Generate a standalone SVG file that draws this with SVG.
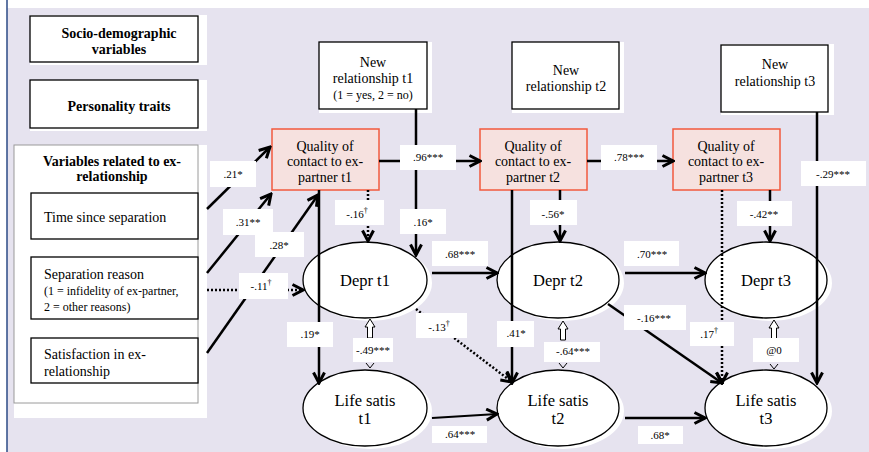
<svg xmlns="http://www.w3.org/2000/svg" width="869" height="452" viewBox="0 0 869 452">
<style>
text{fill:#000;font-family:'Liberation Serif','Times New Roman',serif}
.b{font-weight:bold;font-size:14px}
.n{font-size:14px}
.s{font-size:12px}
.e{font-size:16.5px}
.lb{font-size:11px}
.box{fill:#fff;stroke:#000;stroke-width:1.3}
.wb{fill:#fff}
.q{fill:#f6e1df;stroke:#f25a3e;stroke-width:1.5}
.el{fill:#fff;stroke:#000;stroke-width:1.3}
.c{fill:none;stroke:#000;stroke-width:2.5;marker-end:url(#ah)}
.d{fill:none;stroke:#000;stroke-width:2.5;stroke-dasharray:2 2;marker-end:url(#ah)}
.lbl{fill:#fff}
.dag{font-size:8px}
</style>
<defs>
<marker id="ah" viewBox="0 0 14 14" refX="12" refY="7" markerWidth="14" markerHeight="14" markerUnits="userSpaceOnUse" orient="auto">
<path d="M1.5,1.5 L12,7 L1.5,12.5" fill="none" stroke="#000" stroke-width="3"/>
</marker>
</defs>
<rect x="0" y="0" width="869" height="452" fill="#fff"/>
<rect x="7" y="8" width="862" height="444" fill="#e6e3ef"/>
<line x1="7" y1="0" x2="7" y2="452" stroke="#2b4a86" stroke-width="1.5"/>
<g font-family="Liberation Serif">
<g id="socio">
<rect class="wb" x="30" y="15" width="177" height="50"/>
<rect class="box" x="30" y="16" width="168" height="46"/>
<text class="b" x="119" y="38" text-anchor="middle">Socio-demographic</text>
<text class="b" x="119" y="54" text-anchor="middle">variables</text>
</g>
<g id="personality">
<rect class="wb" x="30" y="80" width="177" height="51"/>
<rect class="box" x="30" y="80" width="168" height="48"/>
<text class="b" x="119" y="111" text-anchor="middle">Personality traits</text>
</g>
<g id="exrel">
<rect class="wb" x="14" y="145" width="193" height="273"/>
<rect x="14" y="145" width="184" height="258" fill="none" stroke="#9a9a9a" stroke-width="1"/>
<text class="b" x="112" y="166" text-anchor="middle">Variables related to ex-</text>
<text class="b" x="112" y="181" text-anchor="middle">relationship</text>
</g>
<g id="time">
<rect class="box" x="31" y="193" width="167" height="46"/>
<text class="n" x="44" y="222">Time since separation</text>
</g>
<g id="reason">
<rect class="box" x="31" y="257" width="167" height="62"/>
<text class="n" x="44" y="279">Separation reason</text>
<text class="s" x="44" y="295">(1 = infidelity of ex-partner,</text>
<text class="s" x="44" y="311">2 = other reasons)</text>
</g>
<g id="satisfaction">
<rect class="box" x="31" y="338" width="167" height="45"/>
<text class="n" x="44" y="359">Satisfaction in ex-</text>
<text class="n" x="44" y="376">relationship</text>
</g>

<g id="newrel1">
<rect class="wb" x="319" y="42" width="113" height="71"/>
<rect class="box" x="319" y="42" width="108" height="67"/>
<text class="n" x="373" y="67" text-anchor="middle">New</text>
<text class="n" x="373" y="83" text-anchor="middle">relationship t1</text>
<text class="s" x="373" y="99" text-anchor="middle">(1 = yes, 2 = no)</text>
</g>
<g id="newrel2">
<rect class="wb" x="512" y="42" width="112" height="71"/>
<rect class="box" x="512" y="42" width="107" height="67"/>
<text class="n" x="566" y="75" text-anchor="middle">New</text>
<text class="n" x="566" y="91" text-anchor="middle">relationship t2</text>
</g>
<g id="newrel3">
<rect class="wb" x="721" y="44" width="113" height="71"/>
<rect class="box" x="721" y="45" width="107" height="67"/>
<text class="n" x="775" y="69" text-anchor="middle">New</text>
<text class="n" x="775" y="86" text-anchor="middle">relationship t3</text>
</g>

<g id="quality1">
<rect class="q" x="272" y="129" width="107" height="61"/>
<text class="n" x="325" y="151" text-anchor="middle">Quality of</text>
<text class="n" x="325" y="166" text-anchor="middle">contact to ex-</text>
<text class="n" x="325" y="182" text-anchor="middle">partner t1</text>
</g>
<g id="quality2">
<rect class="q" x="480" y="129" width="107" height="61"/>
<text class="n" x="533" y="151" text-anchor="middle">Quality of</text>
<text class="n" x="533" y="166" text-anchor="middle">contact to ex-</text>
<text class="n" x="533" y="182" text-anchor="middle">partner t2</text>
</g>
<g id="quality3">
<rect class="q" x="673" y="129" width="107" height="61"/>
<text class="n" x="726" y="151" text-anchor="middle">Quality of</text>
<text class="n" x="726" y="166" text-anchor="middle">contact to ex-</text>
<text class="n" x="726" y="182" text-anchor="middle">partner t3</text>
</g>

<g id="depr1">
<ellipse cx="370" cy="283" rx="62" ry="38" fill="#fff"/>
<ellipse class="el" cx="365" cy="280" rx="62" ry="38"/>
<text class="e" x="365" y="286" text-anchor="middle">Depr t1</text>
</g>
<g id="depr2">
<ellipse cx="563" cy="283" rx="61" ry="38" fill="#fff"/>
<ellipse class="el" cx="558" cy="280" rx="61" ry="38"/>
<text class="e" x="558" y="286" text-anchor="middle">Depr t2</text>
</g>
<g id="depr3">
<ellipse cx="771" cy="283" rx="61" ry="38" fill="#fff"/>
<ellipse class="el" cx="766" cy="280" rx="61" ry="38"/>
<text class="e" x="766" y="286" text-anchor="middle">Depr t3</text>
</g>
<g id="life1">
<ellipse cx="370" cy="411" rx="62" ry="38" fill="#fff"/>
<ellipse class="el" cx="365" cy="408" rx="62" ry="38"/>
<text class="e" x="365" y="406" text-anchor="middle">Life satis</text>
<text class="e" x="365" y="424" text-anchor="middle">t1</text>
</g>
<g id="life2">
<ellipse cx="563" cy="411" rx="61" ry="38" fill="#fff"/>
<ellipse class="el" cx="558" cy="408" rx="61" ry="38"/>
<text class="e" x="558" y="406" text-anchor="middle">Life satis</text>
<text class="e" x="558" y="424" text-anchor="middle">t2</text>
</g>
<g id="life3">
<ellipse cx="771" cy="411" rx="61" ry="38" fill="#fff"/>
<ellipse class="el" cx="766" cy="408" rx="61" ry="38"/>
<text class="e" x="766" y="406" text-anchor="middle">Life satis</text>
<text class="e" x="766" y="424" text-anchor="middle">t3</text>
</g>

<g id="connectors">
<line class="c" x1="207" y1="209" x2="270" y2="147"/>
<line class="c" x1="207" y1="273" x2="271" y2="194"/>
<line class="c" x1="207" y1="353" x2="318" y2="195"/>
<line class="d" x1="207" y1="290" x2="303" y2="290"/>
<line class="c" x1="379" y1="161" x2="480" y2="161"/>
<line class="c" x1="587" y1="161" x2="673" y2="161"/>
<line class="d" x1="368" y1="190" x2="368" y2="241"/>
<line class="c" x1="416" y1="109" x2="416" y2="255"/>
<line class="c" x1="319" y1="190" x2="319" y2="383"/>
<line class="c" x1="432" y1="273" x2="497" y2="273"/>
<line class="c" x1="625" y1="273" x2="705" y2="273"/>
<line class="c" x1="560" y1="190" x2="560" y2="241"/>
<line class="c" x1="512" y1="190" x2="512" y2="383"/>
<line class="c" x1="770" y1="190" x2="770" y2="241"/>
<line class="d" x1="722" y1="190" x2="722" y2="383"/>
<line class="c" x1="817" y1="112" x2="817" y2="383"/>
<line class="c" x1="608" y1="304" x2="722" y2="383"/>
<line class="d" x1="416" y1="309" x2="512" y2="382"/>
<line class="c" x1="432" y1="418" x2="497" y2="414" style="stroke-width:1.8"/>
<line class="c" x1="625" y1="418" x2="705" y2="418"/>
<g fill="#fff" stroke="#000" stroke-width="1">
<polygon points="370,319 375,327 372.5,327 372.5,338 367.5,338 367.5,327 365,327"/>
<polygon points="563,321 568,329 565.5,329 565.5,340 560.5,340 560.5,329 558,329"/>
<polygon points="774,320 779,328 776.5,328 776.5,339 771.5,339 771.5,328 769,328"/>
</g>
<g fill="none" stroke="#000" stroke-width="1">
<path d="M366,363 L370,368 L374,363"/>
<path d="M559,363 L563,368 L567,363"/>
<path d="M770,364 L774,369 L778,364"/>
</g>
<rect class="lbl" x="210" y="161" width="46" height="26"/>
<text class="lb" x="233" y="178" text-anchor="middle">.21*</text>
<rect class="lbl" x="223" y="209" width="50" height="26"/>
<text class="lb" x="248" y="226" text-anchor="middle">.31**</text>
<rect class="lbl" x="255" y="232" width="49" height="25"/>
<text class="lb" x="279" y="249" text-anchor="middle">.28*</text>
<rect class="lbl" x="239" y="273" width="49" height="26"/>
<text class="lb" x="261" y="290" text-anchor="middle">-.11<tspan class="dag" dy="-5">†</tspan></text>
<rect class="lbl" x="400" y="145" width="56" height="25"/>
<text class="lb" x="428" y="161" text-anchor="middle">.96***</text>
<rect class="lbl" x="601" y="145" width="56" height="25"/>
<text class="lb" x="629" y="161" text-anchor="middle">.78***</text>
<rect class="lbl" x="335" y="200" width="49" height="25"/>
<text class="lb" x="357" y="218" text-anchor="middle">-.16<tspan class="dag" dy="-5">†</tspan></text>
<rect class="lbl" x="400" y="209" width="46" height="25"/>
<text class="lb" x="423" y="226" text-anchor="middle">.16*</text>
<rect class="lbl" x="530" y="200" width="47" height="25"/>
<text class="lb" x="553" y="218" text-anchor="middle">-.56*</text>
<rect class="lbl" x="737" y="201" width="55" height="25"/>
<text class="lb" x="764" y="218" text-anchor="middle">-.42**</text>
<rect class="lbl" x="801" y="161" width="65" height="25"/>
<text class="lb" x="833" y="178" text-anchor="middle">-.29***</text>
<rect class="lbl" x="432" y="241" width="56" height="25"/>
<text class="lb" x="460" y="258" text-anchor="middle">.68***</text>
<rect class="lbl" x="624" y="241" width="55" height="25"/>
<text class="lb" x="652" y="258" text-anchor="middle">.70***</text>
<rect class="lbl" x="287" y="322" width="46" height="25"/>
<text class="lb" x="310" y="338" text-anchor="middle">.19*</text>
<rect class="lbl" x="353" y="338" width="40" height="24"/>
<text class="lb" x="373" y="354" text-anchor="middle">-.49***</text>
<rect class="lbl" x="416" y="313" width="51" height="25"/>
<text class="lb" x="439" y="331" text-anchor="middle">-.13<tspan class="dag" dy="-5">†</tspan></text>
<rect class="lbl" x="497" y="321" width="37" height="26"/>
<text class="lb" x="516" y="337" text-anchor="middle">.41*</text>
<rect class="lbl" x="544" y="342" width="56" height="20"/>
<text class="lb" x="573" y="355" text-anchor="middle">-.64***</text>
<rect class="lbl" x="624" y="305" width="62" height="25"/>
<text class="lb" x="654" y="322" text-anchor="middle">-.16***</text>
<rect class="lbl" x="690" y="322" width="44" height="24"/>
<text class="lb" x="709" y="338" text-anchor="middle">.17<tspan class="dag" dy="-5">†</tspan></text>
<rect class="lbl" x="753" y="338" width="46" height="24"/>
<text class="lb" x="774" y="354" text-anchor="middle">@0</text>
<rect class="lbl" x="432" y="426" width="55" height="17"/>
<text class="lb" x="460" y="438" text-anchor="middle">.64***</text>
<rect class="lbl" x="638" y="426" width="45" height="18"/>
<text class="lb" x="660" y="439" text-anchor="middle">.68*</text>
</g>
</g>
</svg>
